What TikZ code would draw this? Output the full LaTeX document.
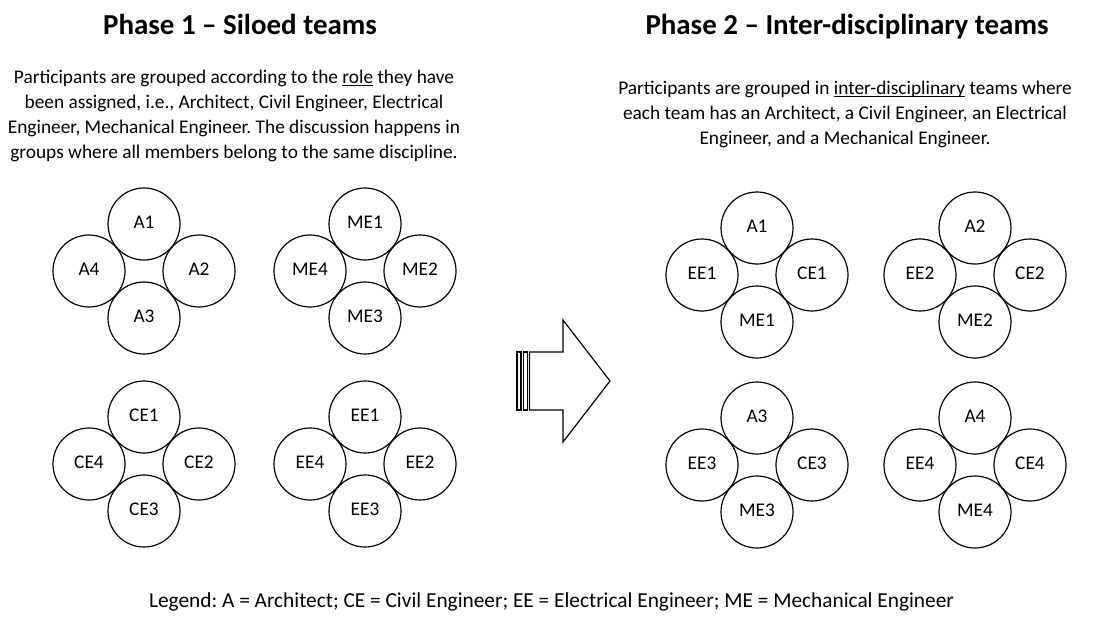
\documentclass[tikz,border=0pt]{standalone}
\usepackage{fontspec}
\setmainfont{Carlito}
\usetikzlibrary{positioning}
\frenchspacing
\newcommand\uword[1]{\underline{\smash{#1}}}
\tikzset{
    member/.style={draw, circle, line width=0.9pt, minimum size=54pt,
                   inner sep=0pt, text height=1.35ex, text depth=0pt,
                   font=\fontsize{14.5}{17}\selectfont},
    phasetitle/.style={anchor=base, font=\fontsize{21.7}{26}\selectfont\bfseries},
    blurb/.style={align=center, font=\fontsize{14.5}{18.75}\selectfont},
}

\begin{document}
\begin{tikzpicture}[x=0.75pt, y=-0.75pt,
    blockarrow/.style={draw, line width=0.9pt, line join=miter}
]
    \useasboundingbox (0,0) rectangle (1103,617);

    % headings and descriptions
    \node[phasetitle] (ph1) at (240,35) {Phase 1 -- Siloed teams};
    \node[phasetitle] (ph2) at (847,35) {Phase 2 -- Inter-disciplinary teams};
    \node[blurb] (desc1) at (234,116)
        {Participants are grouped according to the \uword{role} they have\\
         been assigned, i.e., Architect, Civil Engineer, Electrical\\
         Engineer, Mechanical Engineer. The discussion happens in\\
         groups where all members belong to the same discipline.};
    \node[blurb] (desc2) at (845,114)
        {Participants are grouped in \uword{inter-disciplinary} teams where\\
         each team has an Architect, a Civil Engineer, an Electrical\\
         Engineer, and a Mechanical Engineer.};

    % teams of four
    \foreach \cx/\cy/\g/\na/\nb/\nc/\nd in {
        144/271/sa/A1/A2/A3/A4,
        365/271/sm/ME1/ME2/ME3/ME4,
        144/464/sc/CE1/CE2/CE3/CE4,
        365/464/se/EE1/EE2/EE3/EE4,
        757/275/ta/A1/CE1/ME1/EE1,
        975/275/tb/A2/CE2/ME2/EE2,
        757/465/tc/A3/CE3/ME3/EE3,
        975/465/td/A4/CE4/ME4/EE4}{
        \node[member] (\g-n) at (\cx,\cy-47) {\na};
        \node[member] (\g-e) at (\cx+55,\cy) {\nb};
        \node[member] (\g-s) at (\cx,\cy+47) {\nc};
        \node[member] (\g-w) at (\cx-55,\cy) {\nd};
    }

    % striped block arrow
    \draw[blockarrow] (517,352) rectangle (521,410);
    \draw[blockarrow] (523.5,352) rectangle (527.5,410);
    \draw[blockarrow] (529.5,352) -- (563,352) -- (563,320) -- (610,381)
        -- (563,442) -- (563,410) -- (529.5,410) -- cycle;

    \node[font=\fontsize{16}{19}\selectfont] (legend) at (551.5,602)
        {Legend: A = Architect; CE = Civil Engineer; EE = Electrical Engineer; ME = Mechanical Engineer};
\end{tikzpicture}
\end{document}
